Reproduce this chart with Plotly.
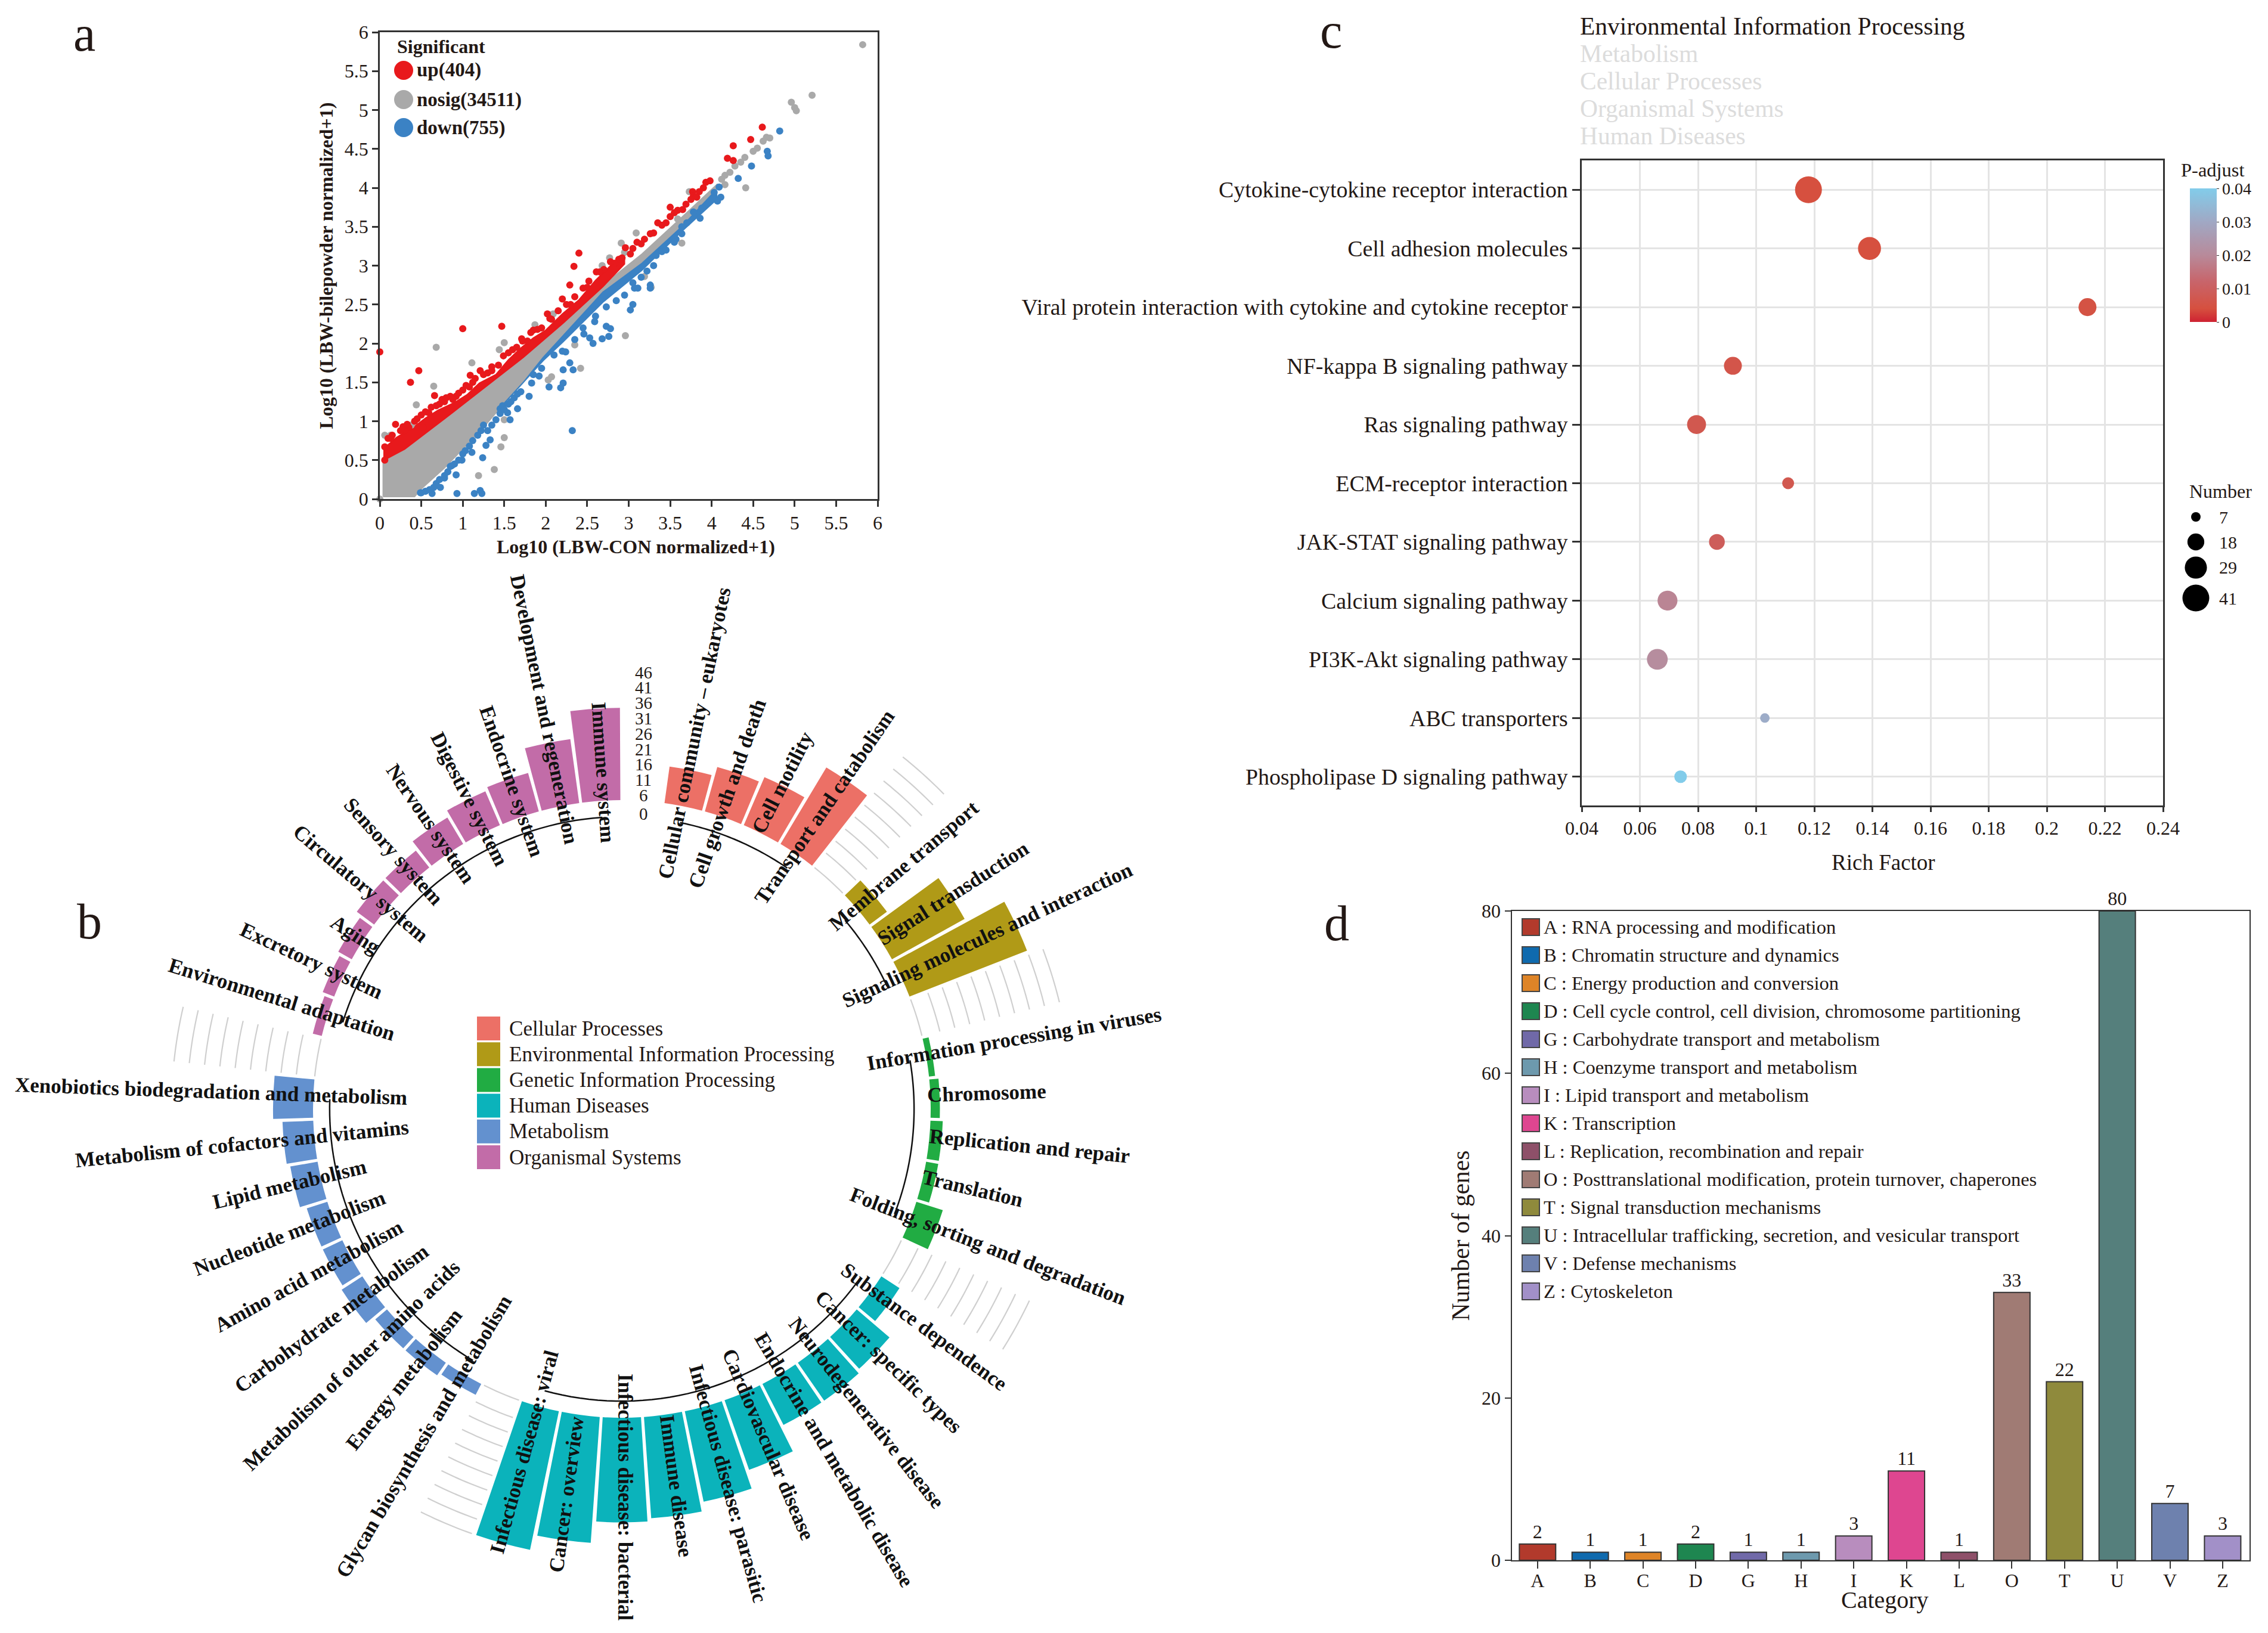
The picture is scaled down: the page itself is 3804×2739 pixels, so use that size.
import numpy as np
import plotly.graph_objects as go

W, H = 3804, 2739
FONT = "Liberation Serif"
INK = "#231815"

# ---------- panel a data ----------
tick_a = [0, 0.5, 1, 1.5, 2, 2.5, 3, 3.5, 4, 4.5, 5, 5.5, 6]
gray_band_x = [0.04,0.04,0.30,0.78,1.25,1.73,2.21,2.69,3.16,3.64,4.07,4.05,3.64,3.16,2.69,2.21,1.97,1.73,1.49,1.25,0.78,0.49,0.42,0.04]
gray_band_y = [0.03,0.50,0.66,1.05,1.44,1.84,2.28,2.75,3.15,3.62,4.05,3.97,3.50,3.03,2.66,2.10,1.82,1.50,1.22,0.92,0.40,0.12,0.03,0.03]
red_band_x = [0.05,0.05,0.20,0.40,0.55,0.70,0.90,1.05,1.20,1.40,1.55,1.70,1.85,2.00,2.20,2.40,2.60,2.80,2.95,2.95,2.69,2.21,1.73,1.25,0.78,0.30,0.05]
red_band_y = [0.50,0.65,0.79,0.92,1.04,1.14,1.24,1.34,1.49,1.60,1.79,1.94,2.07,2.17,2.38,2.56,2.81,3.02,3.08,3.02,2.73,2.26,1.82,1.42,1.03,0.64,0.50]
blue_band_x = [1.49,1.73,1.97,2.21,2.69,3.16,3.64,4.07,4.05,3.64,3.16,2.69,2.21,1.97,1.73,1.49]
blue_band_y = [1.22,1.50,1.78,2.02,2.53,2.94,3.44,3.86,3.97,3.50,3.03,2.66,2.10,1.82,1.50,1.22]
gray_x = [5.82,5.21,4.96,5.0,5.02,4.66,4.70,4.55,4.40,4.28,4.41,4.16,4.12,3.09,2.91,2.95,2.68,2.77,3.64,3.19,3.27,2.96,2.35,2.42,2.07,2.03,1.50,1.44,1.87,2.09,0.68,1.11,0.65,0.44,0.80,0.38,0.06,0.13,1.50,1.50,1.46,1.38,1.19,0,3.73,4.16,3.59,4.62,4.50,4.35,4.22]
gray_y = [5.84,5.19,5.10,5.03,4.99,4.65,4.64,4.51,4.39,4.28,4.0,4.16,4.11,3.42,3.29,3.17,3.0,3.1,3.29,2.86,2.72,2.10,1.98,1.68,1.57,1.53,2.01,1.92,2.24,2.38,1.95,1.75,1.45,1.21,1.30,0.95,0.82,0.82,1.02,0.79,0.67,0.38,0.30,0,3.95,4.04,3.6,4.60,4.47,4.33,4.20]
red_x = [0,0.47,0.37,0.66,1.00,1.47,2.40,2.34,4.61,4.47,4.26,4.19,4.26,2.29,2.45,2.20,1.71,1.09,0.19,2.96,3.10,3.50,3.50,3.69,3.59,3.77,3.93,3.98,3.35,3.78,3.85,3.45,3.26,3.19,3.02,2.88,2.83,2.61,2.02,2.07,1.85,1.49,1.35,1.21,1.04,0.92,0.78,0.59,0.52,0.35,0.30,0.13,0.06,0.06,0.42,0.72,0.85,1.12,1.30,1.60,1.78,1.95,2.15,2.30,2.52,2.70,2.92,3.05,3.15,3.30,3.40,3.55,3.65,3.75,3.82,3.90,
         0.10,0.15,0.25,0.28,0.33,0.45,0.50,0.55,0.62,0.68,0.75,0.80,0.88,0.95,1.00,1.08,1.15,1.25,1.35,1.43,1.55,1.65,1.72,1.82,1.90,2.05,2.25,2.35,2.50,2.65,2.78]
red_y = [1.89,1.65,1.50,1.33,2.19,2.22,3.16,2.99,4.78,4.62,4.54,4.38,4.35,2.75,2.71,2.57,2.06,1.59,0.96,3.23,3.30,3.75,3.63,3.79,3.71,3.95,4.07,4.09,3.55,3.90,3.95,3.55,3.41,3.34,3.15,3.08,3.03,2.92,2.38,2.31,2.17,1.84,1.70,1.65,1.46,1.32,1.25,1.11,0.92,0.92,0.88,0.78,0.67,0.50,1.00,1.22,1.32,1.50,1.62,1.92,2.03,2.20,2.42,2.50,2.80,2.95,3.10,3.22,3.28,3.42,3.52,3.68,3.72,3.85,3.88,4.00,
         0.78,0.82,0.88,0.93,0.96,1.03,1.08,1.12,1.18,1.20,1.28,1.30,1.28,1.36,1.40,1.44,1.55,1.60,1.65,1.72,1.88,1.95,2.03,2.14,2.18,2.32,2.50,2.60,2.72,2.92,3.05]
blue_x = [4.82,4.67,4.68,4.48,4.32,4.09,4.03,4.11,4.07,3.86,3.88,3.78,3.64,3.57,3.64,3.40,3.33,3.22,3.26,3.26,3.07,3.11,3.05,3.02,2.73,2.73,2.78,2.76,2.68,2.57,2.53,2.46,2.59,2.24,2.29,2.21,2.33,2.21,2.18,2.04,1.80,1.66,1.57,2.32,1.33,1.28,1.24,0.99,0.92,0.87,0.78,0.93,1.14,1.21,1.23,0.63,0.49,0.73,1.11,1.54,1.45,1.83,1.92,
          0.50,0.55,0.60,0.65,0.68,0.72,0.78,0.82,0.85,0.90,0.95,1.00,1.03,1.08,1.12,1.18,1.22,1.25,1.30,1.35,1.40,1.45,1.48,1.50,1.55,1.58,1.62,1.66,
          1.70,1.85,1.95,2.10,2.20,2.35,2.45,2.60,2.85,2.95,3.05,3.15,3.30,3.45,3.55,3.70]
blue_y = [4.73,4.47,4.41,4.28,4.12,4.01,3.94,3.88,3.83,3.61,3.74,3.69,3.50,3.34,3.41,3.18,3.13,2.93,2.75,2.71,2.71,2.71,2.50,2.43,2.47,2.22,2.19,2.09,2.06,2.00,2.07,2.12,2.28,1.89,1.75,1.66,1.66,1.49,1.43,1.44,1.32,1.16,1.02,0.88,0.76,0.69,0.53,0.50,0.31,0.43,0.27,0.07,0.07,0.11,0.07,0.07,0.08,0.15,0.60,1.11,1.16,1.49,1.58,
          0.08,0.10,0.12,0.15,0.20,0.25,0.30,0.35,0.42,0.45,0.50,0.58,0.62,0.68,0.75,0.82,0.88,0.95,0.88,0.95,1.02,1.10,1.20,1.15,1.22,1.25,1.30,1.35,
          1.38,1.60,1.68,1.85,1.90,2.05,2.20,2.35,2.55,2.62,2.78,2.85,3.00,3.20,3.30,3.55]
a_legend = ["up(404)", "nosig(34511)", "down(755)"]

# ---------- panel b data ----------
b_groups = ["Cellular Processes", "Environmental Information Processing", "Genetic Information Processing",
            "Human Diseases", "Metabolism", "Organismal Systems"]
b_colors = ["#EC7066", "#B09A17", "#21AC43", "#0BB3BB", "#6391CF", "#C26CA8"]
b_names = [
    ["Cellular community \u2013 eukaryotes", "Cell growth and death", "Cell motility", "Transport and catabolism"],
    ["Membrane transport", "Signal transduction", "Signaling molecules and interaction"],
    ["Information processing in viruses", "Chromosome", "Replication and repair", "Translation", "Folding, sorting and degradation"],
    ["Substance dependence", "Cancer: specific types", "Neurodegenerative disease", "Endocrine and metabolic disease",
     "Cardiovascular disease", "Infectious disease: parasitic", "Immune disease", "Infectious disease: bacterial",
     "Cancer: overview", "Infectious disease: viral"],
    ["Glycan biosynthesis and metabolism", "Energy metabolism", "Metabolism of other amino acids", "Carbohydrate metabolism",
     "Amino acid metabolism", "Nucleotide metabolism", "Lipid metabolism", "Metabolism of cofactors and vitamins",
     "Xenobiotics biodegradation and metabolism"],
    ["Environmental adaptation", "Excretory system", "Aging", "Circulatory system", "Sensory system", "Nervous system",
     "Digestive system", "Endocrine system", "Development and regeneration", "Immune system"],
]
b_values = [
    [12, 15, 17, 29],
    [7, 27, 41],
    [2, 3, 4, 4, 9],
    [7, 14, 15, 15, 24, 30, 33, 34, 41, 46],
    [4, 5, 5, 8, 7, 7, 9, 10, 13],
    [3, 4, 5, 7, 7, 10, 12, 13, 21, 30],
]
b_ticks = [0, 6, 11, 16, 21, 26, 31, 36, 41, 46]
b_grid_levels = [0, 6, 11, 16, 21, 26, 31, 36, 41, 46]
b_label_r = [
    [642, 557, 610, 610],
    [624, 663, 679],
    [668, 613, 687, 603, 656],
    [625, 617, 654, 688, 614, 653, 639, 651, 653, 598],
    [642, 582, 625, 600, 595, 595, 571, 640, 690],
    [599, 577, 534, 579, 577, 576, 579, 580, 683, 565],
]

# ---------- panel c data ----------
c_groups = ["Environmental Information Processing", "Metabolism", "Cellular Processes", "Organismal Systems", "Human Diseases"]
c_paths = ["Cytokine-cytokine receptor interaction", "Cell adhesion molecules",
           "Viral protein interaction with cytokine and cytokine receptor", "NF-kappa B signaling pathway",
           "Ras signaling pathway", "ECM-receptor interaction", "JAK-STAT signaling pathway", "Calcium signaling pathway",
           "PI3K-Akt signaling pathway", "ABC transporters", "Phospholipase D signaling pathway"]
c_rich = [0.118, 0.139, 0.214, 0.092, 0.0795, 0.111, 0.0865, 0.0695, 0.066, 0.103, 0.074]
c_padj = [0.004, 0.004, 0.005, 0.006, 0.007, 0.007, 0.009, 0.019, 0.021, 0.031, 0.040]
c_num = [41, 31, 20, 20, 22, 10, 16, 24, 26, 7, 11]
c_xticks = [0.04, 0.06, 0.08, 0.1, 0.12, 0.14, 0.16, 0.18, 0.2, 0.22, 0.24]
c_legend_num = [7, 18, 29, 41]
c_cbar_ticks = [0, 0.01, 0.02, 0.03, 0.04]

# ---------- panel d data ----------
d_cat = ["A", "B", "C", "D", "G", "H", "I", "K", "L", "O", "T", "U", "V", "Z"]
d_val = [2, 1, 1, 2, 1, 1, 3, 11, 1, 33, 22, 80, 7, 3]
d_desc = ["A : RNA processing and modification", "B : Chromatin structure and dynamics", "C : Energy production and conversion",
          "D : Cell cycle control, cell division, chromosome partitioning", "G : Carbohydrate transport and metabolism",
          "H : Coenzyme transport and metabolism", "I : Lipid transport and metabolism", "K : Transcription",
          "L : Replication, recombination and repair", "O : Posttranslational modification, protein turnover, chaperones",
          "T : Signal transduction mechanisms", "U : Intracellular trafficking, secretion, and vesicular transport",
          "V : Defense mechanisms", "Z : Cytoskeleton"]
d_colors = ["#B23A2C", "#0F6AAE", "#DE8427", "#1E8650", "#7069A8", "#6D99AD", "#B88DBE", "#DE4690", "#8E5069", "#A07B74",
            "#8F8A3C", "#557F7C", "#6E81AE", "#A290C8"]
d_yticks = [0, 20, 40, 60, 80]

# ---------- helpers ----------
def px(x): return x / W
def py(y): return 1 - y / H

annots, shapes = [], []
def label(x, y, s, size, color=INK, bold=False, angle=0, xanchor="left", yanchor="middle"):
    annots.append(dict(x=px(x), y=py(y), xref="paper", yref="paper", text=f"<b>{s}</b>" if bold else s, showarrow=False,
                       font=dict(family=FONT, size=size, color=color), textangle=angle,
                       xanchor=xanchor, yanchor=yanchor, borderpad=0, borderwidth=0))
def box(x0, y0, x1, y1, fill, line=None, kind="rect", lw=0):
    shapes.append(dict(type=kind, xref="paper", yref="paper", x0=px(x0), x1=px(x1), y0=py(y0), y1=py(y1),
                       fillcolor=fill, line=dict(color=line or fill, width=lw)))

fig = go.Figure()

# panel letters
for s, x, y in [("a", 141, 56), ("b", 150, 1546), ("c", 2232, 52), ("d", 2242, 1548)]:
    label(x, y, s, 84, xanchor="center")

# ---------- panel a ----------
A_BOX = (637, 1472, 54, 837)
AX = dict(showgrid=False, zeroline=False, showline=True, mirror=True, linecolor="#333", linewidth=2.5,
          ticks="outside", ticklen=10, tickwidth=2.5, tickcolor="#333", tickfont=dict(family=FONT, size=32, color=INK))
fig.update_layout(
    xaxis=dict(AX, domain=[px(A_BOX[0]), px(A_BOX[1])], range=[0, 6], anchor="y", tickvals=tick_a, ticktext=[str(t) for t in tick_a]),
    yaxis=dict(AX, domain=[py(A_BOX[3]), py(A_BOX[2])], range=[0, 6], anchor="x", tickvals=tick_a, ticktext=[str(t) for t in tick_a],
               title=dict(text="<b>Log10 (LBW-bilepowder normalized+1)</b>", font=dict(family=FONT, size=32, color=INK), standoff=10)),
)
label(1066, 917, "Log10 (LBW-CON normalized+1)", 32, bold=True, xanchor="center")
for bx, by, col in [(gray_band_x, gray_band_y, "#A9A9A9"), (red_band_x, red_band_y, "#E8191C"), (blue_band_x, blue_band_y, "#3B82C4")]:
    fig.add_trace(go.Scatter(x=bx, y=by, mode="lines", fill="toself", fillcolor=col, line=dict(color=col, width=2),
                             xaxis="x", yaxis="y", hoverinfo="skip"))
for ax_, ay_, col in [(gray_x, gray_y, "#A9A9A9"), (red_x, red_y, "#E8191C"), (blue_x, blue_y, "#3B82C4")]:
    fig.add_trace(go.Scatter(x=ax_, y=ay_, mode="markers", marker=dict(color=col, size=12), cliponaxis=False, xaxis="x", yaxis="y"))
label(666, 78, "Significant", 32, bold=True)
for s, y, col in zip(a_legend, [118, 167, 214], ["#E8191C", "#A9A9A9", "#3B82C4"]):
    box(661, y - 16, 693, y + 16, col, kind="circle")
    label(699, y, s, 33, bold=True)

# ---------- panel b ----------
CX, CY, R0, PX_PER = 1043, 1860, 518, 5.16
rmin = -R0 / PX_PER
rmax = 47.0
Rout = (rmax - rmin) * PX_PER
SLOT = 360 / 47
start_slots = [1, 6, 10, 16, 27, 37]
fig.update_layout(polar=dict(
    domain=dict(x=[px(CX - Rout), px(CX + Rout)], y=[py(CY + Rout), py(CY - Rout)]),
    bgcolor="rgba(0,0,0,0)",
    radialaxis=dict(visible=False, range=[rmin, rmax]),
    angularaxis=dict(visible=False, direction="clockwise", rotation=90),
))
gap_slots = [5, 9, 15, 26, 36]
gt, gr = [], []
for g in gap_slots:
    arc = np.linspace(g * SLOT + 0.3, (g + 1) * SLOT - 0.3, 12)
    for lvl in b_grid_levels:
        gt += list(arc) + [None]
        gr += [lvl] * 12 + [None]
fig.add_trace(go.Scatterpolar(theta=gt, r=gr, mode="lines", line=dict(color="#CFCFCF", width=2.2), hoverinfo="skip", subplot="polar"))
for gi, (names, vals, s0, col) in enumerate(zip(b_names, b_values, start_slots, b_colors)):
    thetas = [(s0 + i + 0.5) * SLOT for i in range(len(vals))]
    fig.add_trace(go.Barpolar(theta=thetas, r=vals, width=[SLOT - 0.55] * len(vals), base=0, marker=dict(color=col, line=dict(width=0)),
                              subplot="polar", name=b_groups[gi]))
    arc = np.linspace(thetas[0], thetas[-1], 40)
    fig.add_trace(go.Scatterpolar(theta=arc, r=[-5.4] * 40, mode="lines", line=dict(color="#111", width=2.5), hoverinfo="skip", subplot="polar"))
    for name, th, rr in zip(names, thetas, b_label_r[gi]):
        rad = np.radians(th)
        ang = th - 90 if th < 183 else th - 270
        x = CX + rr * np.sin(rad) + 6 * np.sin(np.radians(ang))
        y = CY - rr * np.cos(rad) - 6 * np.cos(np.radians(ang))
        label(x, y, name, 35, color="#111", bold=True, angle=ang, xanchor="center")
for v in b_ticks:
    label(1079, CY - (R0 + v * PX_PER - 23), str(v), 29, xanchor="center")
for i, (g, col) in enumerate(zip(b_groups, b_colors)):
    y = 1725 + i * 43.2
    box(800, y - 20, 839, y + 20, col)
    label(854, y, g, 35.1)

# ---------- panel c ----------
C_BOX = (2653, 3628, 269, 1351)
GR = dict(showgrid=True, gridcolor="#E4E4E4", gridwidth=2.5, zeroline=False, showline=True, mirror=True, linecolor="#333", linewidth=2.5,
          ticks="outside", tickwidth=2.5, tickcolor="#333")
fig.update_layout(
    xaxis2=dict(GR, domain=[px(C_BOX[0]), px(C_BOX[1])], range=[0.04, 0.24], anchor="y2", tickvals=c_xticks,
                ticktext=[f"{t:g}" for t in c_xticks], ticklen=8, tickfont=dict(family=FONT, size=32, color=INK)),
    yaxis2=dict(GR, domain=[py(C_BOX[3]), py(C_BOX[2])], range=[10.49, -0.5], anchor="x2", type="category",
                categoryorder="array", categoryarray=c_paths, ticklen=13, tickfont=dict(family=FONT, size=37.8, color=INK)),
)
label(3159, 1446, "Rich Factor", 37, xanchor="center")
fig.add_trace(go.Scatter(
    x=c_rich, y=c_paths, mode="markers", xaxis="x2", yaxis="y2",
    marker=dict(size=[7.73 * np.sqrt(n) - 4.5 for n in c_num], color=c_padj, cmin=0, cmax=0.04, opacity=1,
                colorscale=[[0, "#CE2232"], [0.1, "#D6503F"], [0.3, "#C8646A"], [0.5, "#B88A9A"], [0.75, "#A0A8C4"], [1, "#82CCEA"]],
                line=dict(width=0),
                colorbar=dict(x=px(3673), xanchor="left", y=py(316), yanchor="top", lenmode="pixels", len=224,
                              thicknessmode="pixels", thickness=45, outlinewidth=0, ticks="outside", ticklen=4, tickcolor="#333",
                              tickvals=c_cbar_ticks, ticktext=[f"{t:g}" for t in c_cbar_ticks],
                              tickfont=dict(family=FONT, size=28, color=INK), xpad=0, ypad=0))))
for i, s in enumerate(c_groups):
    label(2650, 44 + i * 46, s, 41.5, color=INK if i == 0 else "#DCDCDC")
label(3658, 285, "P-adjust", 32.5)
label(3724, 824, "Number", 32, xanchor="center")
for n, y in zip(c_legend_num, [867, 909, 952, 1003]):
    d = 7.73 * np.sqrt(n) - 4.5
    box(3683 - d / 2, y - d / 2, 3683 + d / 2, y + d / 2, "#000", kind="circle")
    label(3722, y, str(n), 30)

# ---------- panel d ----------
D_BOX = (2535.5, 3773, 1528, 2617)
fig.update_layout(
    xaxis3=dict(domain=[px(D_BOX[0]), px(D_BOX[1])], range=[-0.49, 13.51], anchor="y3", type="category", showgrid=False, zeroline=False,
                showline=True, mirror=True, linecolor="#333", linewidth=2, ticks="outside", ticklen=12, tickwidth=2, tickcolor="#333",
                ticklabelstandoff=-7, tickfont=dict(family=FONT, size=32, color=INK)),
    yaxis3=dict(domain=[py(D_BOX[3]), py(D_BOX[2])], range=[0, 80], anchor="x3", tickvals=d_yticks, showgrid=False, zeroline=False,
                showline=True, mirror=True, linecolor="#333", linewidth=2, ticks="outside", ticklen=10, tickwidth=2, tickcolor="#333",
                tickfont=dict(family=FONT, size=32, color=INK),
                title=dict(text="Number of genes", font=dict(family=FONT, size=41.5, color=INK), standoff=8)),
)
label(3161, 2683, "Category", 40, xanchor="center")
fig.add_trace(go.Bar(x=d_cat, y=d_val, xaxis="x3", yaxis="y3", width=0.69, marker=dict(color=d_colors, line=dict(color="#333", width=2)),
                     text=d_val, textposition="outside", cliponaxis=False, textfont=dict(family=FONT, size=32, color=INK), textangle=0))
for i, (s, col) in enumerate(zip(d_desc, d_colors)):
    y = 1555 + i * 47
    box(2553, y - 14, 2582, y + 14, col, line="#444", lw=2)
    label(2589, y, s, 32.5)

fig.update_layout(width=W, height=H, margin=dict(l=0, r=0, t=0, b=0, pad=0, autoexpand=False), autosize=False, showlegend=False,
                  plot_bgcolor="white", paper_bgcolor="white", annotations=annots, shapes=shapes,
                  font=dict(family=FONT, color=INK))
fig.write_html("out.html", config={"displayModeBar": False}, post_script="document.body.style.margin='0';")
